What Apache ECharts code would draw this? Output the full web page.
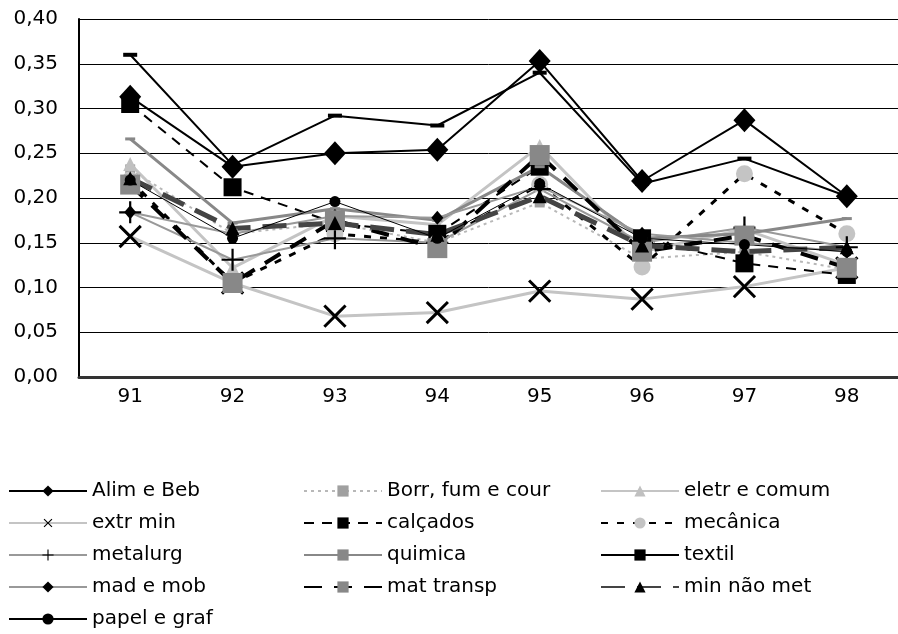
<!DOCTYPE html>
<html><head><meta charset="utf-8">
<script src="https://cdn.jsdelivr.net/npm/echarts@6/dist/echarts.min.js"></script>
<style>html,body{margin:0;padding:0;background:#fff}#c{width:898px;height:634px}</style>
</head><body><div id="c"></div>
<script>
var categories = ['91','92','93','94','95','96','97','98'];
var yTicks = ['0,00','0,05','0,10','0,15','0,20','0,25','0,30','0,35','0,40'];

var alimBeb   = [0.313, 0.235, 0.250, 0.254, 0.353, 0.219, 0.287, 0.202];
var borrFum   = [0.232, 0.160, 0.172, 0.150, 0.195, 0.132, 0.140, 0.120];
var eletr     = [0.238, 0.122, 0.180, 0.170, 0.258, 0.140, 0.165, 0.125];
var extrMin   = [0.157, 0.105, 0.068, 0.072, 0.096, 0.087, 0.101, 0.122];
var calcados  = [0.305, 0.212, 0.172, 0.160, 0.235, 0.155, 0.127, 0.114];
var mecanica  = [0.220, 0.105, 0.160, 0.150, 0.215, 0.123, 0.227, 0.160];
var metalurg  = [0.184, 0.131, 0.155, 0.150, 0.210, 0.150, 0.167, 0.145];
var quimica   = [0.266, 0.172, 0.188, 0.175, 0.235, 0.155, 0.160, 0.177];
var textil    = [0.360, 0.237, 0.292, 0.281, 0.340, 0.216, 0.244, 0.202];
var madMob    = [0.184, 0.160, 0.180, 0.178, 0.213, 0.160, 0.150, 0.140];
var matTransp = [0.215, 0.105, 0.175, 0.144, 0.248, 0.140, 0.158, 0.122];
var minNaoMet = [0.222, 0.166, 0.172, 0.159, 0.202, 0.147, 0.140, 0.145];
var papelGraf = [0.220, 0.155, 0.196, 0.155, 0.216, 0.155, 0.148, 0.140];

var names = ['Alim e Beb','Borr, fum e cour','eletr e comum','extr min','calçados','mecânica','metalurg','quimica','textil','mad e mob','mat transp','min não met','papel e graf'];

var PLUS = 'path://M9,0h2v9h9v2h-9v9h-2v-9h-9v-2h9z';
var FONT = 'DejaVu Sans';

function ser(name, data, line, sym) {
  return {
    name: name, type: 'line', data: data,
    lineStyle: line,
    itemStyle: {color: sym.color, borderWidth: 0},
    symbol: sym.symbol, symbolSize: sym.size, symbolRotate: sym.rotate || 0,
    showAllSymbol: true, animation: false,
    emphasis: {disabled: true}
  };
}

var series = [
  ser(names[0], alimBeb, {color:'#000', width:2, type:'solid'}, {symbol:'diamond', size:[22,24], color:'#000'}),
  ser(names[1], borrFum, {color:'#b8b8b8', width:2, type:[3,4]}, {symbol:'rect', size:10, color:'#a0a0a0'}),
  ser(names[2], eletr, {color:'#c4c4c4', width:3, type:'solid'}, {symbol:'triangle', size:[14,14], color:'#c0c0c0'}),
  ser(names[3], extrMin, {color:'#c4c4c4', width:3, type:'solid'}, {symbol:PLUS, size:30, rotate:45, color:'#000'}),
  ser(names[4], calcados, {color:'#000', width:2, type:[10,8]}, {symbol:'rect', size:18, color:'#000'}),
  ser(names[5], mecanica, {color:'#000', width:3, type:[7,9]}, {symbol:'circle', size:17, color:'#c4c4c4'}),
  ser(names[6], metalurg, {color:'#999', width:2, type:'solid'}, {symbol:PLUS, size:22, color:'#000'}),
  ser(names[7], quimica, {color:'#888', width:3, type:'solid'}, {symbol:'rect', size:[10,3], color:'#888'}),
  ser(names[8], textil, {color:'#000', width:2, type:'solid'}, {symbol:'rect', size:[14,4], color:'#000'}),
  ser(names[9], madMob, {color:'#999', width:2, type:'solid'}, {symbol:'diamond', size:[12,14], color:'#000'}),
  ser(names[10], matTransp, {color:'#000', width:4, type:[18,12]}, {symbol:'rect', size:20, color:'#888'}),
  ser(names[11], minNaoMet, {color:'#444', width:5, type:[24,12]}, {symbol:'triangle', size:[14,14], color:'#000'}),
  ser(names[12], papelGraf, {color:'#000', width:1, type:'solid'}, {symbol:'circle', size:11, color:'#000'})
];

function leg(left, top, data) {
  return {
    orient: 'vertical', left: left, top: top, data: data,
    itemWidth: 78, itemHeight: 14, itemGap: 12,
    selectedMode: false, padding: 0,
    textStyle: {fontFamily: FONT, fontSize: 20, color: '#000', lineHeight: 20, padding:[0,0,0,0]}
  };
}

var chart = echarts.init(document.getElementById('c'), null, {renderer:'canvas'});
chart.setOption({
  backgroundColor: '#fff',
  animation: false,
  grid: {left: 79, top: 19, width: 829, height: 358, containLabel: false},
  xAxis: {
    type: 'category', data: categories, boundaryGap: true,
    axisLine: {lineStyle: {color: '#333', width: 3}},
    axisTick: {show: false},
    axisLabel: {fontFamily: FONT, fontSize: 20, color: '#000', margin: 10}
  },
  yAxis: {
    type: 'value', min: 0, max: 0.40, interval: 0.05,
    axisLine: {show: true, lineStyle: {color: '#000', width: 2}},
    axisTick: {show: false},
    splitLine: {lineStyle: {color: '#000', width: 1}},
    axisLabel: {fontFamily: FONT, fontSize: 20, color: '#000', margin: 21,
      formatter: function (v) { return yTicks[Math.round(v / 0.05)]; }}
  },
  legend: [
    leg(8, 481, [names[0], names[3], names[6], names[9]]),
    leg(8, 609, [names[12]]),
    leg(303, 481, [names[1], names[4], names[7], names[10]]),
    leg(600, 481, [names[2], names[5], names[8], names[11]])
  ],
  series: series
});
</script></body></html>
